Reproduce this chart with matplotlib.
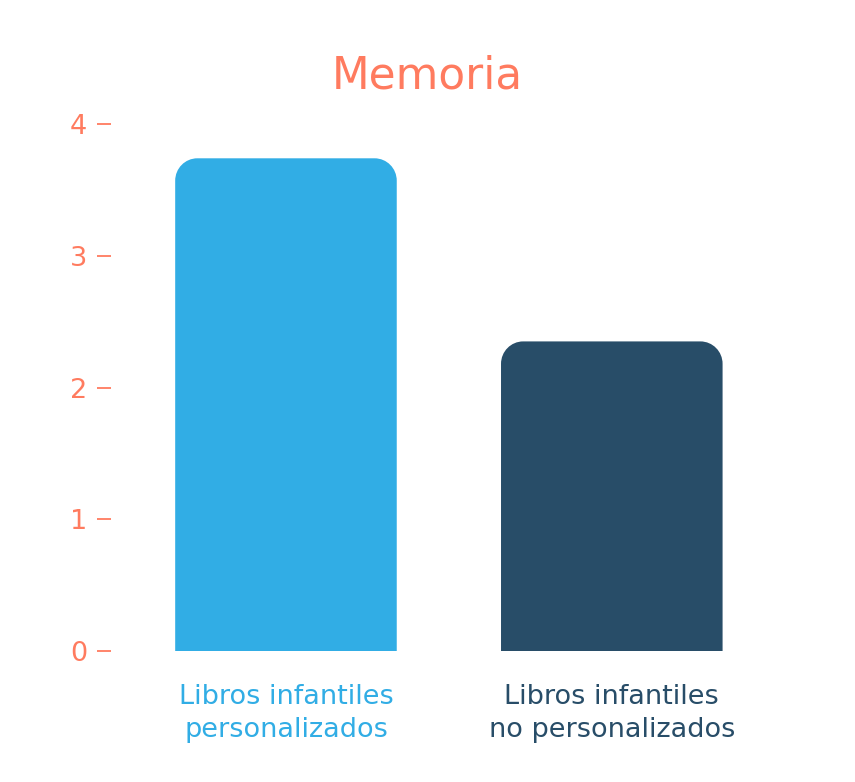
import matplotlib
matplotlib.use("Agg")
import matplotlib.pyplot as plt
from matplotlib.path import Path
from matplotlib.patches import PathPatch

categories = ["Libros infantiles\npersonalizados", "Libros infantiles\nno personalizados"]
values = [3.74, 2.35]
yticks = [0, 1, 2, 3, 4]

salmon = "#FF7B5F"
colors = ["#31ADE5", "#284D68"]

plt.rcParams["font.family"] = ["DejaVu Sans"]


def rounded_bar(ax, x, w, h, color, rx, ry):
    # bar with rounded top corners, in data units
    x0, x1 = x - w / 2, x + w / 2
    k = 0.5523
    verts = [
        (x0, 0), (x0, h - ry),
        (x0, h - ry + k * ry), (x0 + rx - k * rx, h), (x0 + rx, h),
        (x1 - rx, h),
        (x1 - rx + k * rx, h), (x1, h - ry + k * ry), (x1, h - ry),
        (x1, 0), (x0, 0),
    ]
    codes = [Path.MOVETO, Path.LINETO,
             Path.CURVE4, Path.CURVE4, Path.CURVE4,
             Path.LINETO,
             Path.CURVE4, Path.CURVE4, Path.CURVE4,
             Path.LINETO, Path.CLOSEPOLY]
    ax.add_patch(PathPatch(Path(verts, codes), facecolor=color, edgecolor="none"))


fig = plt.figure(figsize=(8.55, 7.82), dpi=100)
ax = fig.add_axes([111 / 855, 131 / 782, (791 - 111) / 855, (651 - 97.7) / 782])

bar_w = 0.68
for i, v in enumerate(values):
    rounded_bar(ax, i, bar_w, v, colors[i], 0.068, 0.17)

ax.set_xlim(-0.537, 1.55)
ax.set_ylim(0, 4.2)

for s in ax.spines.values():
    s.set_visible(False)

ax.set_yticks(yticks)
ax.set_yticklabels([str(t) for t in yticks], color=salmon, fontsize=19.5)
ax.tick_params(axis="y", length=10, width=1.3, color=salmon, pad=7, direction="out")
ax.set_xticks([])

for i, lab in enumerate(categories):
    ax.text(i, -0.25, lab, ha="center", va="top", fontsize=19.5,
            color=colors[i], linespacing=1.36, transform=ax.transData)

fig.text(427 / 855, 1 - 76 / 782, "Memoria", ha="center", va="center",
         fontsize=31.5, color=salmon)

fig.savefig("out.png", dpi=100, facecolor="white")
